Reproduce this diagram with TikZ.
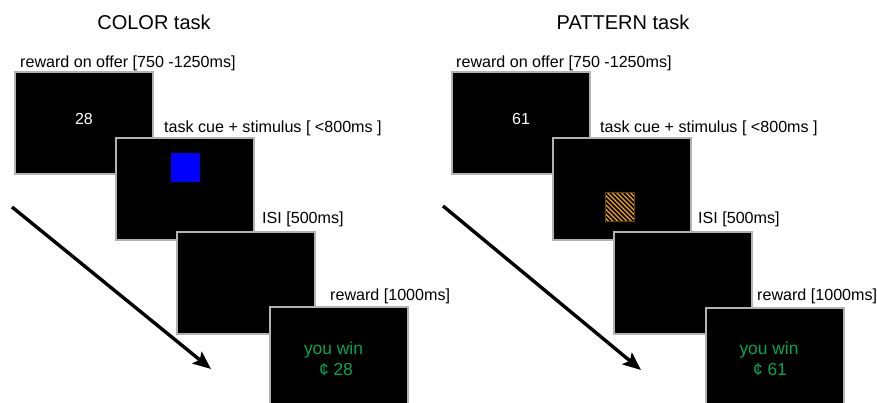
\documentclass[tikz,border=0pt]{standalone}
\usepackage{fontspec}
\setmainfont{Liberation Sans}
\usetikzlibrary{arrows.meta,calc}
\definecolor{wingreen}{RGB}{0,166,81}
\definecolor{stripeorange}{RGB}{245,165,0}
\definecolor{screenframe}{RGB}{178,178,178}
\definecolor{cueblue}{RGB}{0,0,255}
\begin{document}
\begin{tikzpicture}[x=1pt,y=-1pt,
 screen/.style={draw=screenframe,line width=2pt,fill=black,minimum width=138pt,minimum height=102pt,inner sep=0pt,outer sep=0pt},
 lbl/.style={anchor=base west,inner sep=0pt,font=\fontsize{16.1}{19}\selectfont},
 ttl/.style={anchor=base,inner sep=0pt,font=\fontsize{20}{24}\selectfont},
 num/.style={text=white,inner sep=0pt,font=\fontsize{16}{19}\selectfont},
 win/.style={text=wingreen,anchor=base,inner sep=0pt,font=\fontsize{17.4}{21}\selectfont},
 stim/.style={minimum width=29pt,minimum height=29pt,inner sep=0pt,outer sep=0pt},
 timearrow/.style={line width=3.4pt,-{Stealth[length=18pt,width=15pt,inset=3.5pt]}}]
\useasboundingbox[fill=white] (0,0) rectangle (877,403);

% titles
\node[ttl] (t1) at (154,30) {COLOR task};
\node[ttl] (t2) at (623,30) {PATTERN task};

% ---------- COLOR task ----------
\node[lbl] (l1a) at (20,68) {reward on offer [750 -1250ms]};
\node[lbl] (l2a) at (164,133) {task cue + stimulus [ <800ms ]};
\node[lbl] (l3a) at (262,224) {ISI [500ms]};
\node[lbl] (l4a) at (330,300) {reward [1000ms]};

\node[screen] (s1a) at (84,123) {};
\node[num] (n1a) at (84,119) {28};
\node[screen] (s2a) at (184.5,189) {};
\node[stim,fill=cueblue] (cuea) at (185,167.5) {};
\node[screen] (s3a) at (246,283) {};
\node[screen] (s4a) at (339,358) {};
\node[win] (w1a) at (333.5,354) {you win};
\node[win] (w2a) at (336,375) {¢ 28};

\coordinate (aS1) at (12,207);
\coordinate (aE1) at (211,369);
\draw[timearrow] (aS1) -- (aE1);

% ---------- PATTERN task ----------
\node[lbl] (l1b) at (456,68) {reward on offer [750 -1250ms]};
\node[lbl] (l2b) at (600,133) {task cue + stimulus [ <800ms ]};
\node[lbl] (l3b) at (698,224) {ISI [500ms]};
\node[lbl] (l4b) at (757,300) {reward [1000ms]};

\node[screen] (s1b) at (521,123.5) {};
\node[num] (n1b) at (521,119) {61};
\node[screen] (s2b) at (621.5,189) {};
\node[stim,fill=stripeorange,draw=black!60!stripeorange,line width=0.6pt,
  path picture={\foreach \i in {-7,...,7}
    \draw[black,line width=1.7pt] ($(path picture bounding box.north west)+(\i*4.6,0)$) -- ++(32,32);}]
  (cueb) at (619.5,207) {};
\node[screen] (s3b) at (683,283) {};
\node[screen] (s4b) at (775,359) {};
\node[win] (w1b) at (769,354) {you win};
\node[win] (w2b) at (770,375) {¢ 61};

\coordinate (aS2) at (443,206);
\coordinate (aE2) at (641,370);
\draw[timearrow] (aS2) -- (aE2);
\end{tikzpicture}
\end{document}
